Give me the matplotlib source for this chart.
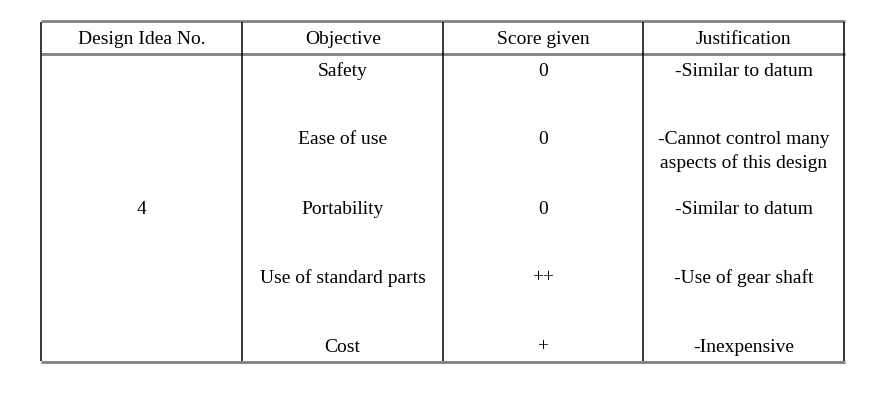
import matplotlib

matplotlib.use("Agg")
import matplotlib.pyplot as plt

plt.rcParams["font.family"] = ["Liberation Serif", "DejaVu Serif"]

HEADERS = ["Design Idea No.", "Objective", "Score given", "Justification"]
DESIGN_IDEA = "4"
OBJECTIVES = ["Safety", "Ease of use", "Portability", "Use of standard parts", "Cost"]
SCORES = ["0", "0", "0", "++", "+"]
JUSTIFICATIONS = [
    "-Similar to datum",
    "-Cannot control many\naspects of this design",
    "-Similar to datum",
    "-Use of gear shaft",
    "-Inexpensive",
]

# layout in pixels
W, H = 886, 407
COL_EDGES = [41, 242.5, 443, 643, 844.5]
TOP, HEAD_BOTTOM, BOTTOM = 21, 54, 362
HEAD_Y = 39
ROW_Y = [71, 140, 209, 278, 347]
LINE_STEP = 23
FONT_SIZE = 14

fig = plt.figure(figsize=(W / 100, H / 100), dpi=100)
ax = fig.add_axes([0, 0, 1, 1])
ax.set_xlim(0, W)
ax.set_ylim(H, 0)
ax.axis("off")

# borders: horizontal rules grey, vertical rules black
for y in (TOP, HEAD_BOTTOM, BOTTOM):
    ax.plot([COL_EDGES[0], COL_EDGES[-1] + 1], [y, y], color="#808080", lw=2.0,
            solid_capstyle="butt")
for x in COL_EDGES:
    ax.plot([x, x], [TOP + 1, BOTTOM - 1], color="black", lw=1.1,
            solid_capstyle="butt")

centers = [(a + b) / 2 for a, b in zip(COL_EDGES[:-1], COL_EDGES[1:])]


def cell_text(x, y, s):
    for k, line in enumerate(s.split("\n")):
        ax.text(x, y + k * LINE_STEP, line, ha="center", va="center",
                fontsize=FONT_SIZE)


for cx, label in zip(centers, HEADERS):
    cell_text(cx, HEAD_Y, label)

cell_text(centers[0], ROW_Y[2], DESIGN_IDEA)

for i, y in enumerate(ROW_Y):
    cell_text(centers[1], y, OBJECTIVES[i])
    cell_text(centers[2], y, SCORES[i])
    cell_text(centers[3], y, JUSTIFICATIONS[i])

fig.savefig("out.png", dpi=100)
